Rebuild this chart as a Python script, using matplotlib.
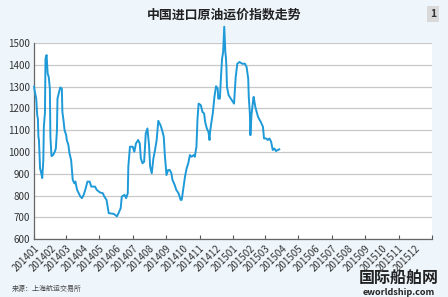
import matplotlib
matplotlib.use("Agg")
import matplotlib.pyplot as plt
import pandas as pd

plt.rcParams['font.family'] = ['Noto Sans CJK SC', 'DejaVu Sans']

# 中国进口原油运价指数
dates = [
    "2014-01-01", "2014-01-02", "2014-01-05", "2014-01-06", "2014-01-07", "2014-01-08",
    "2014-01-09", "2014-01-10", "2014-01-12", "2014-01-14", "2014-01-16", "2014-01-18",
    "2014-01-19", "2014-01-21", "2014-01-22", "2014-01-24", "2014-01-26", "2014-01-28",
    "2014-01-30", "2014-01-31", "2014-02-02", "2014-02-05", "2014-02-08", "2014-02-10",
    "2014-02-12", "2014-02-13", "2014-02-16", "2014-02-18", "2014-02-21", "2014-02-22",
    "2014-02-24", "2014-02-26", "2014-03-01", "2014-03-02", "2014-03-05", "2014-03-07",
    "2014-03-10", "2014-03-12", "2014-03-13", "2014-03-16", "2014-03-18", "2014-03-19",
    "2014-03-21", "2014-03-24", "2014-03-27", "2014-03-30", "2014-04-02", "2014-04-05",
    "2014-04-09", "2014-04-13", "2014-04-16", "2014-04-23", "2014-04-26", "2014-05-02",
    "2014-05-07", "2014-05-10", "2014-05-14", "2014-05-18", "2014-05-27", "2014-05-30",
    "2014-06-02", "2014-06-05", "2014-06-09", "2014-06-11", "2014-06-16", "2014-06-19",
    "2014-06-22", "2014-06-23", "2014-06-26", "2014-07-01", "2014-07-04", "2014-07-07",
    "2014-07-11", "2014-07-14", "2014-07-16", "2014-07-19", "2014-07-22", "2014-07-25",
    "2014-07-28", "2014-07-31", "2014-08-02", "2014-08-05", "2014-08-08", "2014-08-11",
    "2014-08-14", "2014-08-17", "2014-08-21", "2014-08-24", "2014-08-27", "2014-08-29",
    "2014-09-01", "2014-09-04", "2014-09-07", "2014-09-10", "2014-09-12", "2014-09-16",
    "2014-09-19", "2014-09-23", "2014-09-27", "2014-09-29", "2014-10-02", "2014-10-05",
    "2014-10-08", "2014-10-11", "2014-10-14", "2014-10-17", "2014-10-21", "2014-10-23",
    "2014-10-26", "2014-10-28", "2014-10-30", "2014-11-03", "2014-11-06", "2014-11-09",
    "2014-11-11", "2014-11-14", "2014-11-17", "2014-11-19", "2014-11-20", "2014-11-23",
    "2014-11-25", "2014-11-28", "2014-12-01", "2014-12-04", "2014-12-05", "2014-12-08",
    "2014-12-10", "2014-12-12", "2014-12-14", "2014-12-16", "2014-12-18", "2014-12-19",
    "2014-12-20", "2014-12-21", "2014-12-24", "2014-12-28", "2015-01-03", "2015-01-06",
    "2015-01-09", "2015-01-13", "2015-01-18", "2015-01-23", "2015-01-26", "2015-01-29",
    "2015-01-30", "2015-02-01", "2015-02-02", "2015-02-04", "2015-02-07", "2015-02-08",
    "2015-02-11", "2015-02-16", "2015-02-21", "2015-02-25", "2015-02-27", "2015-03-03",
    "2015-03-06", "2015-03-09", "2015-03-12", "2015-03-15", "2015-03-18", "2015-03-21",
    "2015-03-24", "2015-03-27",
]
values = [
    1300, 1283, 1245, 1200, 1165, 1155,
    1070, 1055, 925, 905, 880, 960,
    1116, 1180, 1428, 1445, 1360, 1344,
    1291, 1070, 981, 986, 1001, 1016,
    1100, 1245, 1276, 1296, 1291, 1184,
    1146, 1100, 1077, 1055, 1032, 994,
    963, 902, 872, 856, 864, 850,
    826, 811, 795, 788, 803, 826,
    864, 864, 841, 841, 826, 814,
    811, 795, 780, 719, 716, 711,
    704, 719, 742, 795, 803, 788,
    811, 933, 1024, 1024, 1001, 1039,
    1055, 1039, 970, 948, 955, 1085,
    1108, 1032, 933, 902, 970, 1009,
    1055, 1143, 1123, 1100, 1070, 986,
    894, 917, 917, 902, 872, 849,
    826, 811, 780, 780, 833, 887,
    925, 948, 986, 978, 986, 978,
    1024, 1154, 1222, 1215, 1184, 1177,
    1138, 1108, 1093, 1055, 1093, 1146,
    1177, 1253, 1302, 1291, 1245, 1245,
    1344, 1428, 1459, 1575, 1459, 1436,
    1390, 1299, 1261, 1245, 1222, 1344,
    1405, 1413, 1405, 1405, 1390, 1337,
    1253, 1177, 1077, 1170, 1238, 1253,
    1207, 1161, 1138, 1116, 1062, 1062,
    1055, 1062, 1047, 1009, 1016, 1004,
    1009, 1012,
]
month_labels = [f"{y}{m:02d}" for y in (2014, 2015) for m in range(1, 13)]

x = pd.to_datetime(dates)
months = pd.date_range("2014-01-01", "2016-01-01", freq="MS")

fig = plt.figure(figsize=(4.48, 2.97), dpi=100, facecolor="#eef5fb")
ax = fig.add_axes([0.076, 0.195, 0.888, 0.66])
ax.set_facecolor("white")

ax.plot(x, values, color="#1e9ad8", lw=1.4, clip_on=False, zorder=3)

ax.set_ylim(600, 1500)
ax.set_yticks(range(600, 1501, 100))
ax.set_xlim(months[0], months[-1])
ax.grid(axis="y", color="#c8c8c8", lw=0.9)
ax.set_axisbelow(True)

# tick marks every 2 months, labels every month
ax.xaxis.remove_overlapping_locs = False
ax.set_xticks(months[::2])
ax.set_xticklabels([])
ax.set_xticks(months[:-1], minor=True)
ax.set_xticklabels(month_labels, minor=True, rotation=45, ha="right",
                   rotation_mode="anchor", fontsize=7, color="#333333")
ax.tick_params(axis="x", which="major", direction="in", length=3, color="#555555")
ax.tick_params(axis="x", which="minor", length=0, pad=3)
ax.tick_params(axis="y", length=0, labelsize=7, labelcolor="#333333", pad=3)

for s in ("top", "right"):
    ax.spines[s].set_visible(False)
for s in ("left", "bottom"):
    ax.spines[s].set_color("#666666")
    ax.spines[s].set_linewidth(0.9)

fig.text(0.5, 0.95, "中国进口原油运价指数走势", ha="center", va="center",
         fontsize=9.3, fontweight="bold", color="#222222")
fig.text(0.967, 0.952, "1", ha="center", va="center", fontsize=7.5,
         fontweight="bold", color="#333333",
         bbox=dict(boxstyle="square,pad=0.3", fc="#d9d9d9", ec="none"))
fig.text(0.027, 0.027, "来源：上海航运交易所", ha="left", va="center",
         fontsize=5, color="#444444")
fig.text(0.89, 0.062, "国际船舶网", ha="center", va="center",
         fontsize=11.5, fontweight="bold", color="#222222")
fig.text(0.89, 0.014, "eworldship.com", ha="center", va="center",
         fontsize=6.5, fontweight="bold", fontstyle="italic", color="#222222")

fig.savefig("out.png", dpi=100, facecolor=fig.get_facecolor())
